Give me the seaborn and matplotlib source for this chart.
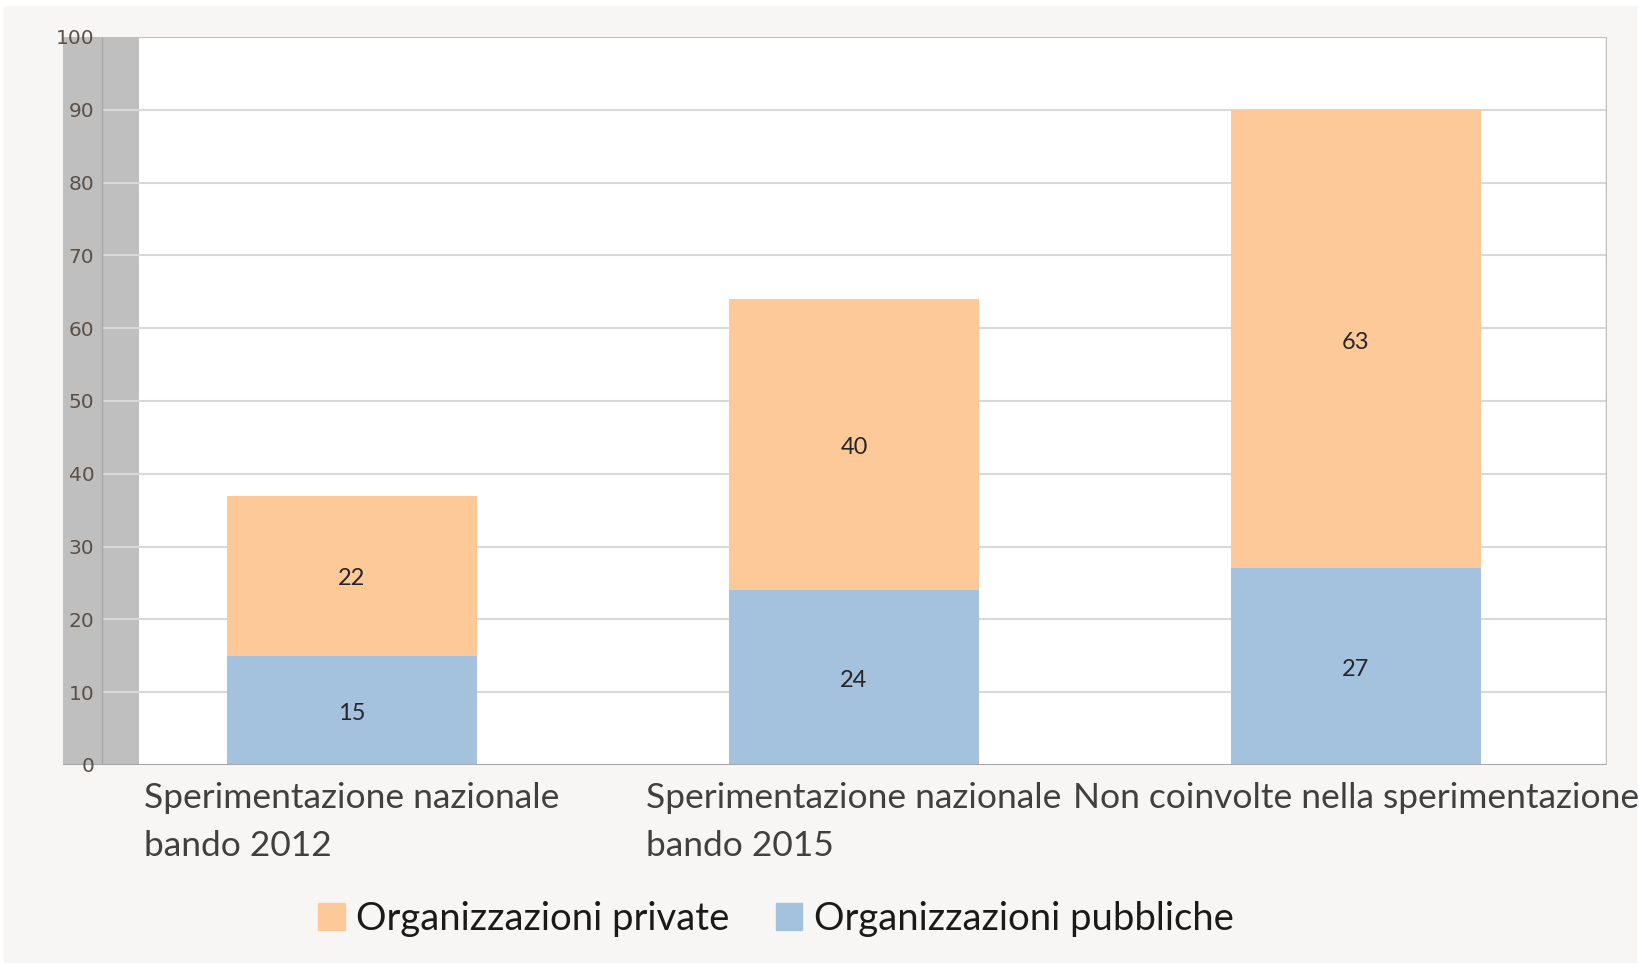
import matplotlib
matplotlib.use("Agg")
import matplotlib.pyplot as plt
import matplotlib.patches as mpatches
import numpy as np
import pandas as pd
import seaborn as sns

# Dati
categorie = ["Sperimentazione nazionale\nbando 2012",
             "Sperimentazione nazionale\nbando 2015",
             "Non coinvolte nella sperimentazione"]
pubbliche = [15, 24, 27]
private = [22, 40, 63]
serie = ["Organizzazioni private", "Organizzazioni pubbliche"]
yticks = [0, 10, 20, 30, 40, 50, 60, 70, 80, 90, 100]

totali = [p + q for p, q in zip(pubbliche, private)]
df = pd.DataFrame({"categoria": categorie, "pubbliche": pubbliche,
                   "private": private, "totale": totali})

sns.set_style("white")
plt.rcParams['font.family'] = ['Lato', 'DejaVu Sans']

col_priv = "#fec999"
col_pub = "#a4c1de"
col_bg = "#f7f6f4"

W, H = 1640, 967
fig = plt.figure(figsize=(W / 100, H / 100), dpi=100, facecolor="white")
# sfondo grigio chiaro del grafico
fig.patches.append(mpatches.Rectangle((4 / W, 1 - 962 / H), 1632 / W, 956 / H,
                                      transform=fig.transFigure, color=col_bg,
                                      zorder=-10))

# area del grafico (in pixel)
x0, x1, y_top, y_bot = 63, 1607, 37, 765
ax = fig.add_axes([x0 / W, 1 - y_bot / H, (x1 - x0) / W, (y_bot - y_top) / H])
ax.set_facecolor("white")

px = 502.0  # pixel per categoria
c0 = 352.0
xl = (x0 - c0) / px
xr = (x1 - c0) / px
x_wall = (139 - c0) / px
x_line = (102 - c0) / px

# parete grigia a sinistra
ax.axvspan(xl, x_wall, color="#bfbfbf", zorder=1, lw=0)
ax.axvline(x_line, color="#a6a6a6", lw=1, zorder=1.5)
ax.hlines(yticks[1:], x_line, xr, color="#d9d9d9", lw=1.5, zorder=1.2)
ax.hlines(0, xl, xr, color="#a6a6a6", lw=1.5, zorder=4)
ax.hlines(100, x_line, xr, color="#bfbfbf", lw=1.5, zorder=4)
ax.axvline(xr, color="#bfbfbf", lw=2.5, zorder=4)

sns.barplot(data=df, x="categoria", y="totale", color=col_priv, width=0.498,
            saturation=1, ax=ax, zorder=2, linewidth=0)
sns.barplot(data=df, x="categoria", y="pubbliche", color=col_pub, width=0.498,
            saturation=1, ax=ax, zorder=3, linewidth=0)

for i in range(len(categorie)):
    ax.text(i, pubbliche[i] / 2 - 0.4, str(pubbliche[i]), ha="center", va="center",
            fontsize=17, color="#262626", zorder=5)
    ax.text(i, pubbliche[i] + private[i] / 2 - 0.4, str(private[i]), ha="center",
            va="center", fontsize=17, color="#262626", zorder=5)

ax.set_xlim(xl, xr)
ax.set_ylim(0, 100)
ax.set_yticks(yticks)
ax.set_yticklabels([str(t) for t in yticks], fontsize=14.5, color="#5a5048",
                   family="DejaVu Sans")
ax.tick_params(axis="y", length=0, pad=-22.5)
ax.tick_params(axis="x", length=0, pad=12.5)
ax.yaxis.set_zorder(6)
ax.set_xticks(range(len(categorie)))
ax.set_xticklabels(categorie, fontsize=25.5, color="#404040", linespacing=1.6,
                   multialignment="left")
ax.set_xlabel("")
ax.set_ylabel("")
for s in ax.spines.values():
    s.set_visible(False)

handles = [mpatches.Patch(color=col_priv, label=serie[0]),
           mpatches.Patch(color=col_pub, label=serie[1])]
fig.legend(handles=handles, loc="center", bbox_to_anchor=(776 / W, 1 - 919 / H),
           ncol=2, frameon=False, fontsize=27.5, handlelength=0.7, handleheight=0.7,
           handletextpad=0.3, columnspacing=1.2, labelcolor="#1a1a1a")

fig.savefig("out.png", dpi=100, facecolor="white")
